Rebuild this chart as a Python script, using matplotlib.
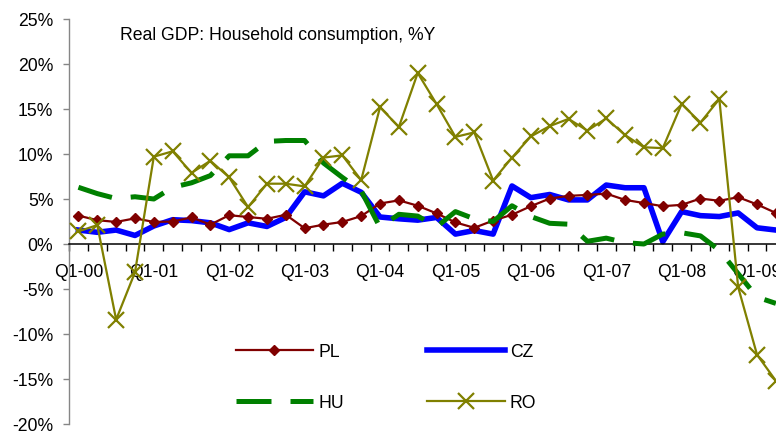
"""Real GDP household consumption (% y/y) for PL, CZ, HU, RO, Excel-style line chart."""
import numpy as np
import matplotlib

matplotlib.use("Agg")
import matplotlib.pyplot as plt
import matplotlib.ticker as mticker

plt.rcParams["font.family"] = ["Liberation Sans", "DejaVu Sans"]

TITLE = "Real GDP: Household consumption, %Y"

# one label every four quarters (Q1 of each year)
year_labels = ["Q1-00", "Q1-01", "Q1-02", "Q1-03", "Q1-04",
               "Q1-05", "Q1-06", "Q1-07", "Q1-08", "Q1-09"]

# quarterly values, Q1-00 .. Q2-09 (%)
pl = [3.15, 2.65, 2.45, 2.85, 2.45, 2.5, 2.95, 2.15, 3.2, 3.0,
      2.8, 3.25, 1.75, 2.15, 2.45, 3.1, 4.5, 4.85, 4.25, 3.4,
      2.4, 1.8, 2.6, 3.25, 4.2, 5.05, 5.35, 5.45, 5.6, 4.9,
      4.55, 4.2, 4.35, 5.05, 4.8, 5.2, 4.4, 3.45]
cz = [1.55, 1.3, 1.55, 0.95, 2.0, 2.7, 2.6, 2.35, 1.6, 2.35,
      1.95, 2.95, 5.8, 5.35, 6.75, 5.75, 3.0, 2.8, 2.65, 2.95,
      1.1, 1.5, 1.1, 6.45, 5.15, 5.5, 4.9, 4.9, 6.55, 6.25,
      6.25, 0.25, 3.6, 3.15, 3.05, 3.45, 1.8, 1.55]
hu = [6.3, 5.6, 5.05, 5.25, 5.0, 6.3, 6.8, 7.6, 9.8, 9.8,
      11.4, 11.5, 11.5, 9.0, 7.4, 5.9, 1.85, 3.3, 3.1, 1.9,
      3.6, 2.8, 2.5, 4.25, 3.05, 2.3, 2.2, 0.3, 0.65, 0.15,
      0.0, 1.1, 1.25, 0.9, -0.7, -3.3, -5.9, -6.6]
ro = [1.4, 2.1, -8.4, -3.15, 9.7, 10.3, 7.9, 9.25, 7.4, 4.1,
      6.7, 6.7, 6.4, 9.6, 9.85, 7.1, 15.2, 13.0, 19.0, 15.55,
      11.9, 12.4, 7.05, 9.6, 11.95, 13.1, 13.9, 12.6, 13.95, 12.1,
      10.75, 10.65, 15.55, 13.5, 16.1, -4.8, -12.3, -15.2]

PL_COLOR = "#800000"
CZ_COLOR = "#0000FF"
HU_COLOR = "#008000"
RO_COLOR = "#808000"
FS = 12.7

W, H = 776, 435
fig = plt.figure(figsize=(W / 100, H / 100), dpi=100)
# plot area: left spine at x=69px, 25% at y=20px, -20% at y=425px;
# the right side runs past the image edge (chart was cropped)
ax = fig.add_axes([69 / W, 1 - 425 / H, 38 * 18.85 / W, 405 / H])

x = np.arange(len(pl))
h_cz, = ax.plot(x, cz, color=CZ_COLOR, lw=4.0, zorder=2, label="CZ")
h_pl, = ax.plot(x, pl, color=PL_COLOR, lw=1.6, marker="D", ms=4.6,
                mfc=PL_COLOR, mec=PL_COLOR, zorder=3, label="PL")
h_hu, = ax.plot(x, hu, color=HU_COLOR, lw=3.6, dashes=(7, 3.8),
                zorder=4, label="HU")
h_ro, = ax.plot(x, ro, color=RO_COLOR, lw=1.6, marker="x", ms=11,
                mew=1.6, zorder=5, label="RO")

ax.set_xlim(-0.5, 37.5)
ax.set_ylim(-20, 25)

# y axis: grey spine, % labels
ax.yaxis.set_major_locator(mticker.MultipleLocator(5))
ax.yaxis.set_major_formatter(mticker.FuncFormatter(lambda v, _: f"{v:.0f}%"))
ax.tick_params(axis="y", length=4.3, width=1.0, color="#868686", pad=7,
               labelsize=FS)
ax.spines["left"].set_color("#868686")
ax.spines["left"].set_linewidth(1.0)

# category axis crosses at zero
for s in ("top", "right"):
    ax.spines[s].set_visible(False)
ax.spines["bottom"].set_position(("data", 0))
ax.spines["bottom"].set_linewidth(1.1)
ax.set_xticks(np.arange(0, len(pl), 4))
ax.set_xticklabels(year_labels)
ax.set_xticks(np.arange(-0.5, len(pl) + 0.5, 1), minor=True)
ax.tick_params(axis="x", which="major", length=0, pad=14, labelsize=FS)
ax.tick_params(axis="x", which="minor", length=5, width=1.0, color="black")

fig.text(120 / W, 1 - 35 / H, TITLE, fontsize=FS, ha="left", va="center")

ax.legend(handles=[h_pl, h_hu, h_cz, h_ro], ncols=2, frameon=False,
          fontsize=FS, handlelength=4.4, handletextpad=0.3,
          columnspacing=4.7, labelspacing=1.9, borderpad=0,
          loc="center", bbox_to_anchor=(386 / W, 1 - 378 / H),
          bbox_transform=fig.transFigure)

fig.savefig("out.png", dpi=100)
